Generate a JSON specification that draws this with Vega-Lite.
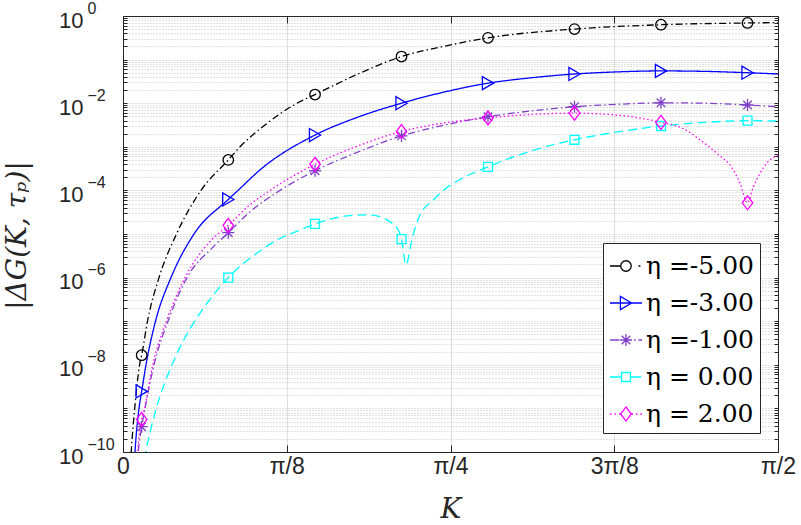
{
  "$schema": "https://vega.github.io/schema/vega-lite/v6.json",
  "width": 655,
  "height": 436,
  "autosize": {"type": "none"},
  "padding": {"left": 123, "top": 16, "right": 23, "bottom": 73},
  "background": "white",
  "config": {"view": {"stroke": null}, "font": "Liberation Sans"},
  "data": {"values": [
    {"s": "η =-5.00", "K": 0.01559, "G": 2.0e-11, "m": 0},
    {"s": "η =-5.00", "K": 0.01967, "G": 1e-10, "m": 0},
    {"s": "η =-5.00", "K": 0.02806, "G": 1e-9, "m": 0},
    {"s": "η =-5.00", "K": 0.03981, "G": 1e-8, "m": 0},
    {"s": "η =-5.00", "K": 0.0448, "G": 1.66e-8, "m": 1},
    {"s": "η =-5.00", "K": 0.05876, "G": 1e-7, "m": 0},
    {"s": "η =-5.00", "K": 0.08634, "G": 1e-6, "m": 0},
    {"s": "η =-5.00", "K": 0.1283, "G": 1e-5, "m": 0},
    {"s": "η =-5.00", "K": 0.1871, "G": 1e-4, "m": 0},
    {"s": "η =-5.00", "K": 0.2525, "G": 5.0e-4, "m": 1},
    {"s": "η =-5.00", "K": 0.2806, "G": 1e-3, "m": 0},
    {"s": "η =-5.00", "K": 0.3405, "G": 3.16e-3, "m": 0},
    {"s": "η =-5.00", "K": 0.4173, "G": 1e-2, "m": 0},
    {"s": "η =-5.00", "K": 0.4605, "G": 1.58e-2, "m": 1},
    {"s": "η =-5.00", "K": 0.5636, "G": 0.0468, "m": 0},
    {"s": "η =-5.00", "K": 0.6679, "G": 0.1175, "m": 1},
    {"s": "η =-5.00", "K": 0.7722, "G": 0.204, "m": 0},
    {"s": "η =-5.00", "K": 0.8753, "G": 0.316, "m": 1},
    {"s": "η =-5.00", "K": 1.0828, "G": 0.501, "m": 1},
    {"s": "η =-5.00", "K": 1.2902, "G": 0.631, "m": 1},
    {"s": "η =-5.00", "K": 1.4977, "G": 0.692, "m": 1},
    {"s": "η =-5.00", "K": 1.5708, "G": 0.708, "m": 0},

    {"s": "η =-3.00", "K": 0.02518, "G": 2.5e-11, "m": 0},
    {"s": "η =-3.00", "K": 0.02878, "G": 1e-10, "m": 0},
    {"s": "η =-3.00", "K": 0.03837, "G": 1e-9, "m": 0},
    {"s": "η =-3.00", "K": 0.0448, "G": 2.45e-9, "m": 1},
    {"s": "η =-3.00", "K": 0.05516, "G": 1e-8, "m": 0},
    {"s": "η =-3.00", "K": 0.07794, "G": 1e-7, "m": 0},
    {"s": "η =-3.00", "K": 0.1151, "G": 1e-6, "m": 0},
    {"s": "η =-3.00", "K": 0.1703, "G": 1e-5, "m": 0},
    {"s": "η =-3.00", "K": 0.2525, "G": 6.2e-5, "m": 1},
    {"s": "η =-3.00", "K": 0.2758, "G": 1e-4, "m": 0},
    {"s": "η =-3.00", "K": 0.3285, "G": 2.95e-4, "m": 0},
    {"s": "η =-3.00", "K": 0.4605, "G": 1.86e-3, "m": 1},
    {"s": "η =-3.00", "K": 0.5636, "G": 4.8e-3, "m": 0},
    {"s": "η =-3.00", "K": 0.6679, "G": 1.0e-2, "m": 1},
    {"s": "η =-3.00", "K": 0.7722, "G": 1.82e-2, "m": 0},
    {"s": "η =-3.00", "K": 0.8753, "G": 2.88e-2, "m": 1},
    {"s": "η =-3.00", "K": 0.9761, "G": 3.8e-2, "m": 0},
    {"s": "η =-3.00", "K": 1.0828, "G": 4.68e-2, "m": 1},
    {"s": "η =-3.00", "K": 1.1919, "G": 5.25e-2, "m": 0},
    {"s": "η =-3.00", "K": 1.2902, "G": 5.5e-2, "m": 1},
    {"s": "η =-3.00", "K": 1.3958, "G": 5.37e-2, "m": 0},
    {"s": "η =-3.00", "K": 1.4977, "G": 5.0e-2, "m": 1},
    {"s": "η =-3.00", "K": 1.5708, "G": 4.68e-2, "m": 0},

    {"s": "η =-1.00", "K": 0.03357, "G": 5e-11, "m": 0},
    {"s": "η =-1.00", "K": 0.03645, "G": 1e-10, "m": 0},
    {"s": "η =-1.00", "K": 0.0448, "G": 3.8e-10, "m": 1},
    {"s": "η =-1.00", "K": 0.05276, "G": 1e-9, "m": 0},
    {"s": "η =-1.00", "K": 0.07434, "G": 1e-8, "m": 0},
    {"s": "η =-1.00", "K": 0.1079, "G": 1e-7, "m": 0},
    {"s": "η =-1.00", "K": 0.1535, "G": 1e-6, "m": 0},
    {"s": "η =-1.00", "K": 0.2158, "G": 5e-6, "m": 0},
    {"s": "η =-1.00", "K": 0.2525, "G": 1.07e-5, "m": 1},
    {"s": "η =-1.00", "K": 0.3046, "G": 3.24e-5, "m": 0},
    {"s": "η =-1.00", "K": 0.3765, "G": 1e-4, "m": 0},
    {"s": "η =-1.00", "K": 0.4605, "G": 2.82e-4, "m": 1},
    {"s": "η =-1.00", "K": 0.5636, "G": 7.6e-4, "m": 0},
    {"s": "η =-1.00", "K": 0.6679, "G": 1.78e-3, "m": 1},
    {"s": "η =-1.00", "K": 0.7722, "G": 3.16e-3, "m": 0},
    {"s": "η =-1.00", "K": 0.8753, "G": 4.9e-3, "m": 1},
    {"s": "η =-1.00", "K": 0.9761, "G": 6.6e-3, "m": 0},
    {"s": "η =-1.00", "K": 1.0828, "G": 8.3e-3, "m": 1},
    {"s": "η =-1.00", "K": 1.1919, "G": 9.5e-3, "m": 0},
    {"s": "η =-1.00", "K": 1.2902, "G": 1.02e-2, "m": 1},
    {"s": "η =-1.00", "K": 1.3958, "G": 1.0e-2, "m": 0},
    {"s": "η =-1.00", "K": 1.4977, "G": 9.1e-3, "m": 1},
    {"s": "η =-1.00", "K": 1.5708, "G": 8.3e-3, "m": 0},

    {"s": "η = 0.00", "K": 0.0448, "G": 3.2e-11, "m": 0},
    {"s": "η = 0.00", "K": 0.05444, "G": 1e-10, "m": 0},
    {"s": "η = 0.00", "K": 0.07986, "G": 1e-9, "m": 0},
    {"s": "η = 0.00", "K": 0.1175, "G": 1e-8, "m": 0},
    {"s": "η = 0.00", "K": 0.172, "G": 1e-7, "m": 0},
    {"s": "η = 0.00", "K": 0.2086, "G": 3.16e-7, "m": 0},
    {"s": "η = 0.00", "K": 0.2525, "G": 1e-6, "m": 1},
    {"s": "η = 0.00", "K": 0.3206, "G": 3.63e-6, "m": 0},
    {"s": "η = 0.00", "K": 0.3765, "G": 7.9e-6, "m": 0},
    {"s": "η = 0.00", "K": 0.4245, "G": 1.23e-5, "m": 0},
    {"s": "η = 0.00", "K": 0.4605, "G": 1.7e-5, "m": 1},
    {"s": "η = 0.00", "K": 0.5043, "G": 2.29e-5, "m": 0},
    {"s": "η = 0.00", "K": 0.5444, "G": 2.63e-5, "m": 0},
    {"s": "η = 0.00", "K": 0.5844, "G": 2.75e-5, "m": 0},
    {"s": "η = 0.00", "K": 0.6163, "G": 2.5e-5, "m": 0},
    {"s": "η = 0.00", "K": 0.6403, "G": 1.9e-5, "m": 0},
    {"s": "η = 0.00", "K": 0.6602, "G": 1.23e-5, "m": 0},
    {"s": "η = 0.00", "K": 0.6679, "G": 7.6e-6, "m": 1},
    {"s": "η = 0.00", "K": 0.6787, "G": 1.95e-6, "m": 0},
    {"s": "η = 0.00", "K": 0.6924, "G": 7.2e-6, "m": 0},
    {"s": "η = 0.00", "K": 0.7123, "G": 2.75e-5, "m": 0},
    {"s": "η = 0.00", "K": 0.7442, "G": 6.0e-5, "m": 0},
    {"s": "η = 0.00", "K": 0.7681, "G": 1e-4, "m": 0},
    {"s": "η = 0.00", "K": 0.8082, "G": 1.78e-4, "m": 0},
    {"s": "η = 0.00", "K": 0.8753, "G": 3.47e-4, "m": 1},
    {"s": "η = 0.00", "K": 0.9761, "G": 7.9e-4, "m": 0},
    {"s": "η = 0.00", "K": 1.0828, "G": 1.45e-3, "m": 1},
    {"s": "η = 0.00", "K": 1.1919, "G": 2.24e-3, "m": 0},
    {"s": "η = 0.00", "K": 1.2902, "G": 3.0e-3, "m": 1},
    {"s": "η = 0.00", "K": 1.3958, "G": 3.63e-3, "m": 0},
    {"s": "η = 0.00", "K": 1.4977, "G": 3.98e-3, "m": 1},
    {"s": "η = 0.00", "K": 1.5708, "G": 3.9e-3, "m": 0},

    {"s": "η = 2.00", "K": 0.03238, "G": 4.5e-11, "m": 0},
    {"s": "η = 2.00", "K": 0.03501, "G": 1e-10, "m": 0},
    {"s": "η = 2.00", "K": 0.0448, "G": 5.6e-10, "m": 1},
    {"s": "η = 2.00", "K": 0.05156, "G": 1e-9, "m": 0},
    {"s": "η = 2.00", "K": 0.07147, "G": 1e-8, "m": 0},
    {"s": "η = 2.00", "K": 0.1043, "G": 1e-7, "m": 0},
    {"s": "η = 2.00", "K": 0.1487, "G": 1e-6, "m": 0},
    {"s": "η = 2.00", "K": 0.211, "G": 7.1e-6, "m": 0},
    {"s": "η = 2.00", "K": 0.2525, "G": 1.58e-5, "m": 1},
    {"s": "η = 2.00", "K": 0.3046, "G": 4.7e-5, "m": 0},
    {"s": "η = 2.00", "K": 0.3525, "G": 1e-4, "m": 0},
    {"s": "η = 2.00", "K": 0.4605, "G": 3.98e-4, "m": 1},
    {"s": "η = 2.00", "K": 0.5636, "G": 1.05e-3, "m": 0},
    {"s": "η = 2.00", "K": 0.6679, "G": 2.24e-3, "m": 1},
    {"s": "η = 2.00", "K": 0.7722, "G": 3.55e-3, "m": 0},
    {"s": "η = 2.00", "K": 0.8753, "G": 4.6e-3, "m": 1},
    {"s": "η = 2.00", "K": 0.9761, "G": 5.5e-3, "m": 0},
    {"s": "η = 2.00", "K": 1.0828, "G": 5.9e-3, "m": 1},
    {"s": "η = 2.00", "K": 1.1919, "G": 5.25e-3, "m": 0},
    {"s": "η = 2.00", "K": 1.2902, "G": 3.63e-3, "m": 1},
    {"s": "η = 2.00", "K": 1.343, "G": 2.63e-3, "m": 0},
    {"s": "η = 2.00", "K": 1.3838, "G": 1.45e-3, "m": 0},
    {"s": "η = 2.00", "K": 1.4238, "G": 7.1e-4, "m": 0},
    {"s": "η = 2.00", "K": 1.4636, "G": 2.95e-4, "m": 0},
    {"s": "η = 2.00", "K": 1.4797, "G": 1.45e-4, "m": 0},
    {"s": "η = 2.00", "K": 1.4977, "G": 5.2e-5, "m": 1},
    {"s": "η = 2.00", "K": 1.5116, "G": 1.2e-4, "m": 0},
    {"s": "η = 2.00", "K": 1.5277, "G": 2.45e-4, "m": 0},
    {"s": "η = 2.00", "K": 1.5437, "G": 4.2e-4, "m": 0},
    {"s": "η = 2.00", "K": 1.5708, "G": 6.5e-4, "m": 0}
  ]},
  "resolve": {"axis": {"x": "independent", "y": "independent"}, "scale": {"color": "independent", "shape": "independent"}},
  "layer": [
    {
      "mark": {"type": "line", "interpolate": "monotone", "clip": true, "strokeWidth": 1.3, "strokeCap": "butt"},
      "encoding": {
        "x": {
          "field": "K", "type": "quantitative",
          "scale": {"domain": [0, 1.5707963], "nice": false, "zero": false},
          "axis": {
            "orient": "bottom",
            "values": [0, 0.3926991, 0.7853982, 1.1780972, 1.5707963],
            "labelExpr": "datum.value < 0.1 ? '0' : datum.value < 0.5 ? 'π/8' : datum.value < 0.9 ? 'π/4' : datum.value < 1.3 ? '3π/8' : 'π/2'",
            "labelFont": "Liberation Sans", "labelFontSize": 23, "labelColor": "#262626",
            "labelFlush": false, "labelOverlap": false, "labelPadding": 10,
            "ticks": true, "tickSize": -7, "tickColor": "#262626", "tickWidth": 1,
            "domain": true, "domainColor": "#262626", "domainWidth": 1,
            "grid": true, "gridColor": "#dedede", "gridWidth": 1,
            "title": "K", "titleFont": "DejaVu Serif", "titleFontStyle": "italic", "titleFontWeight": "normal",
            "titleFontSize": 28, "titleColor": "#262626", "titleY": 57, "titleBaseline": "middle"
          }
        },
        "y": {
          "field": "G", "type": "quantitative",
          "scale": {"type": "log", "domain": [1e-10, 1], "nice": false},
          "axis": {
            "orient": "left",
            "values": [1e-10,2e-10,3e-10,4e-10,5e-10,6e-10,7e-10,8e-10,9e-10,1e-9,2e-9,3e-9,4e-9,5e-9,6e-9,7e-9,8e-9,9e-9,1e-8,2e-8,3e-8,4e-8,5e-8,6e-8,7e-8,8e-8,9e-8,1e-7,2e-7,3e-7,4e-7,5e-7,6e-7,7e-7,8e-7,9e-7,1e-6,2e-6,3e-6,4e-6,5e-6,6e-6,7e-6,8e-6,9e-6,1e-5,2e-5,3e-5,4e-5,5e-5,6e-5,7e-5,8e-5,9e-5,1e-4,2e-4,3e-4,4e-4,5e-4,6e-4,7e-4,8e-4,9e-4,1e-3,2e-3,3e-3,4e-3,5e-3,6e-3,7e-3,8e-3,9e-3,1e-2,2e-2,3e-2,4e-2,5e-2,6e-2,7e-2,8e-2,9e-2,1e-1,2e-1,3e-1,4e-1,5e-1,6e-1,7e-1,8e-1,9e-1,1],
            "labelExpr": "abs(log(datum.value)/LN10/2 - round(log(datum.value)/LN10/2)) > 0.001 ? '' : '10'",
            "labelFont": "Liberation Sans", "labelFontSize": 22, "labelColor": "#262626",
            "labelOverlap": false, "labelFlush": false, "labelBound": false, "labelPadding": 44, "labelOffset": 4,
            "ticks": true, "tickSize": -4, "tickColor": "#262626", "tickWidth": 1,
            "domain": true, "domainColor": "#262626", "domainWidth": 1,
            "grid": true,
            "gridColor": {"condition": {"test": "abs(log(datum.value)/LN10/2 - round(log(datum.value)/LN10/2)) < 0.001", "value": "#dedede"}, "value": "#c4c4c4"},
            "gridDash": {"condition": {"test": "abs(log(datum.value)/LN10/2 - round(log(datum.value)/LN10/2)) < 0.001", "value": [1, 0]}, "value": [1, 2]},
            "gridWidth": 1,
            "title": "|ΔG(K, τₚ)|", "titleFont": "DejaVu Serif", "titleFontStyle": "italic", "titleFontWeight": "normal",
            "titleFontSize": 28, "titleColor": "#262626", "titleX": -106, "titleY": 219, "titleBaseline": "middle", "titleAlign": "center", "titleAngle": -90
          }
        },
        "stroke": {
          "field": "s", "type": "nominal", "legend": null,
          "scale": {"domain": ["η = 0.00", "η = 2.00", "η =-1.00", "η =-3.00", "η =-5.00"], "range": ["#00ffff", "#ff00ff", "#8040c8", "#0000ff", "#000000"]}
        },
        "strokeDash": {
          "field": "s", "type": "nominal", "legend": null,
          "scale": {"domain": ["η = 0.00", "η = 2.00", "η =-1.00", "η =-3.00", "η =-5.00"], "range": [[9, 5], [1.5, 2.5], [7, 3, 1.5, 3], [1, 0], [7, 3, 1.5, 3]]}
        }
      }
    },
    {
      "transform": [{"filter": "datum.m == 1"}],
      "mark": {"type": "point", "filled": false, "size": 196, "strokeWidth": 1.3, "opacity": 1, "clip": true},
      "encoding": {
        "x": {
          "field": "K", "type": "quantitative",
          "scale": {"domain": [0, 1.5707963], "nice": false, "zero": false},
          "axis": {
            "orient": "top", "values": [0, 0.3926991, 0.7853982, 1.1780972, 1.5707963],
            "labels": false, "ticks": true, "tickSize": -7, "tickColor": "#262626", "tickWidth": 1,
            "domain": true, "domainColor": "#262626", "domainWidth": 1, "grid": false, "title": null
          }
        },
        "y": {
          "field": "G", "type": "quantitative",
          "scale": {"type": "log", "domain": [1e-10, 1], "nice": false},
          "axis": {
            "orient": "right",
            "values": [1e-10,2e-10,3e-10,4e-10,5e-10,6e-10,7e-10,8e-10,9e-10,1e-9,2e-9,3e-9,4e-9,5e-9,6e-9,7e-9,8e-9,9e-9,1e-8,2e-8,3e-8,4e-8,5e-8,6e-8,7e-8,8e-8,9e-8,1e-7,2e-7,3e-7,4e-7,5e-7,6e-7,7e-7,8e-7,9e-7,1e-6,2e-6,3e-6,4e-6,5e-6,6e-6,7e-6,8e-6,9e-6,1e-5,2e-5,3e-5,4e-5,5e-5,6e-5,7e-5,8e-5,9e-5,1e-4,2e-4,3e-4,4e-4,5e-4,6e-4,7e-4,8e-4,9e-4,1e-3,2e-3,3e-3,4e-3,5e-3,6e-3,7e-3,8e-3,9e-3,1e-2,2e-2,3e-2,4e-2,5e-2,6e-2,7e-2,8e-2,9e-2,1e-1,2e-1,3e-1,4e-1,5e-1,6e-1,7e-1,8e-1,9e-1,1],
            "labels": false, "ticks": true, "tickSize": -4, "tickColor": "#262626", "tickWidth": 1,
            "domain": true, "domainColor": "#262626", "domainWidth": 1, "grid": false, "title": null
          }
        },
        "color": {
          "field": "s", "type": "nominal", "legend": null,
          "scale": {"domain": ["η =-5.00", "η =-3.00", "η =-1.00", "η = 0.00", "η = 2.00"], "range": ["#000000", "#0000ff", "#8040c8", "#00ffff", "#ff00ff"]}
        },
        "shape": {
          "field": "s", "type": "nominal", "legend": null,
          "scale": {"domain": ["η =-5.00", "η =-3.00", "η =-1.00", "η = 0.00", "η = 2.00"], "range": [
            "M0.75,0A0.75,0.75,0,1,1,-0.75,0A0.75,0.75,0,1,1,0.75,0Z",
            "M0.8,0L-0.8,-0.93L-0.8,0.93Z",
            "M-0.86,0L0.86,0M0,-0.86L0,0.86M-0.61,-0.61L0.61,0.61M-0.61,0.61L0.61,-0.61",
            "M-0.64,-0.64L0.64,-0.64L0.64,0.64L-0.64,0.64Z",
            "M0,-1L0.75,0L0,1L-0.75,0Z"
          ]}
        }
      }
    },
    {
      "transform": [{"filter": "datum.m == 9"}],
      "mark": {"type": "point", "filled": false, "strokeWidth": 1.3, "opacity": 1},
      "encoding": {
        "x": {
          "field": "K", "type": "quantitative",
          "scale": {"domain": [0, 1.5707963], "nice": false, "zero": false},
          "axis": null
        },
        "y": {
          "field": "G", "type": "quantitative",
          "scale": {"type": "log", "domain": [1e-10, 1], "nice": false},
          "axis": {
            "orient": "left",
            "values": [1e-10, 1e-8, 1e-6, 1e-4, 1e-2, 1],
            "labelExpr": "datum.value > 0.1 ? '0' : datum.value > 1e-3 ? '−2' : datum.value > 1e-5 ? '−4' : datum.value > 1e-7 ? '−6' : datum.value > 1e-9 ? '−8' : '−10'",
            "labelFont": "Liberation Sans", "labelFontSize": 16, "labelColor": "#262626",
            "labelAlign": "left", "labelBaseline": "middle",
            "labelOverlap": false, "labelFlush": false, "labelBound": false, "labelPadding": 36, "labelOffset": -8,
            "ticks": false, "domain": false, "grid": false, "title": null
          }
        },
        "color": {
          "field": "s", "type": "nominal",
          "scale": {"domain": ["η =-5.00", "η =-3.00", "η =-1.00", "η = 0.00", "η = 2.00"], "range": ["#000000", "#0000ff", "#8040c8", "#00ffff", "#ff00ff"]},
          "legend": {
            "title": null, "orient": "none", "legendX": 480, "legendY": 227, "padding": 6, "rowPadding": 7,
            "strokeColor": "#262626", "fillColor": "white",
            "labelFont": "DejaVu Serif", "labelFontSize": 25, "labelColor": "#000000", "labelOffset": 3, "labelLimit": 400,
            "symbolSize": 1024, "symbolStrokeWidth": 1.3,
            "encode": {"symbols": {"size": {"value": 1024}, "strokeWidth": {"value": 1.3}}}
          }
        },
        "shape": {
          "field": "s", "type": "nominal",
          "scale": {"domain": ["η =-5.00", "η =-3.00", "η =-1.00", "η = 0.00", "η = 2.00"], "range": [
            "M-1,0L-0.33,0M0.328,0A0.328,0.328,0,1,1,-0.328,0A0.328,0.328,0,1,1,0.328,0M0.78,0L0.9,0",
            "M-1,0L1,0M0.35,0L-0.35,-0.41L-0.35,0.41Z",
            "M-1,0L-0.42,0M-0.38,0L0.38,0M0,-0.38L0,0.38M-0.27,-0.27L0.27,0.27M-0.27,0.27L0.27,-0.27M0.5,0L0.6,0M0.78,0L1,0",
            "M-1,0L-0.28,0M-0.28,-0.28L0.28,-0.28L0.28,0.28L-0.28,0.28ZM0.28,0L0.95,0",
            "M-1,0L-0.9,0M-0.72,0L-0.62,0M-0.44,0L-0.34,0M0,-0.44L0.33,0L0,0.44L-0.33,0ZM0.34,0L0.44,0M0.62,0L0.72,0M0.9,0L1,0"
          ]},
          "legend": {
            "title": null, "orient": "none", "legendX": 480, "legendY": 227, "padding": 6, "rowPadding": 7,
            "strokeColor": "#262626", "fillColor": "white",
            "labelFont": "DejaVu Serif", "labelFontSize": 25, "labelColor": "#000000", "labelOffset": 3, "labelLimit": 400,
            "symbolSize": 1024, "symbolStrokeWidth": 1.3,
            "encode": {"symbols": {"size": {"value": 1024}, "strokeWidth": {"value": 1.3}}}
          }
        }
      }
    }
  ]
}
